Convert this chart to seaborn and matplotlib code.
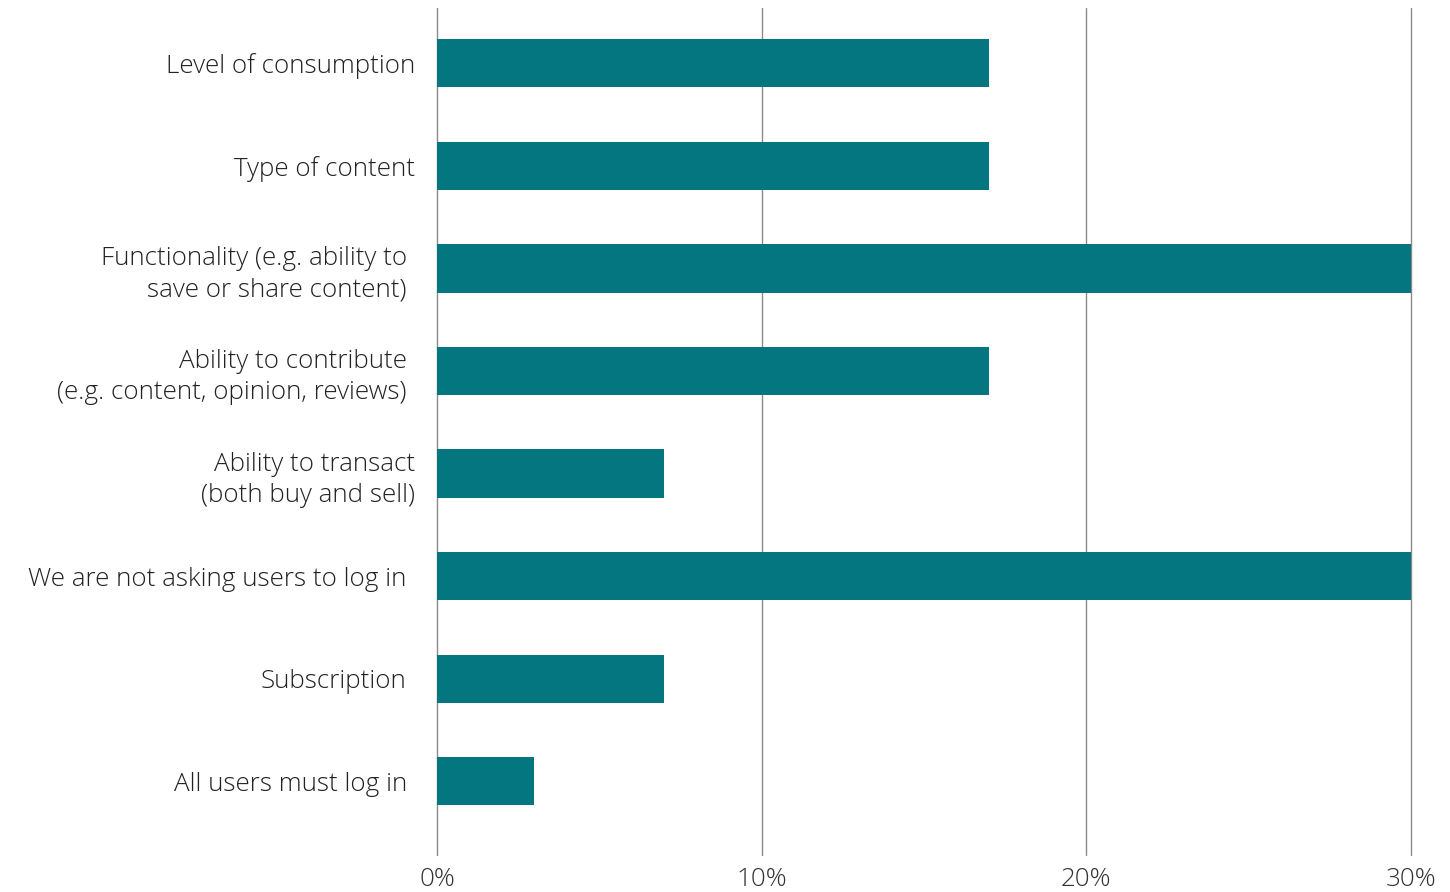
import matplotlib
matplotlib.use("Agg")
import matplotlib.pyplot as plt
import matplotlib.transforms as mtransforms
import seaborn as sns
import pandas as pd

categories = [
    "Level of consumption",
    "Type of content",
    "Functionality (e.g. ability to\nsave or share content)",
    "Ability to contribute\n(e.g. content, opinion, reviews)",
    "Ability to transact\n(both buy and sell)",
    "We are not asking users to log in",
    "Subscription",
    "All users must log in",
]
values = [17, 17, 30, 17, 7, 30, 7, 3]
xticks = [0, 10, 20, 30]
xtick_labels = ["0%", "10%", "20%", "30%"]

sns.set_theme(style="white")
plt.rcParams["font.family"] = ["Open Sans", "DejaVu Sans"]

df = pd.DataFrame({"cat": categories, "val": values})

fig = plt.figure(figsize=(14.5, 8.92), dpi=100)
ax = fig.add_axes([437 / 1450, 1 - 855 / 892, (1411 - 437) / 1450, (855 - 8) / 892])

sns.barplot(data=df, y="cat", x="val", orient="h", color="#037680",
            saturation=1, width=0.47, ax=ax, zorder=3, linewidth=0)

ax.set_xlim(0, 30)
ax.set_ylim(7.72, -0.54)
ax.set_xticks(xticks)
ax.set_xticklabels(xtick_labels, fontsize=18.7, color="#333333", fontweight="light")
ax.set_xlabel("")
ax.set_ylabel("")
ax.grid(axis="x", color="#8a8a8a", linewidth=1.0, zorder=0)
ax.grid(axis="y", visible=False)
for gl in ax.get_xgridlines():
    gl.set_clip_on(False)
for s in ax.spines.values():
    s.set_visible(False)
ax.tick_params(axis="both", length=0)
ax.tick_params(axis="x", pad=8.5)
ax.tick_params(axis="y", pad=16)

for lbl in ax.get_yticklabels():
    lbl.set_fontsize(18.7)
    lbl.set_color("#222222")
    lbl.set_fontweight("light")
    lbl.set_linespacing(1.32)

# some labels sit slightly further left in the reference
shift_idx = [2, 3, 5, 6, 7]
for i, lbl in enumerate(ax.get_yticklabels()):
    if i in shift_idx:
        lbl.set_transform(lbl.get_transform() + mtransforms.ScaledTranslation(-8 / 100, 0, fig.dpi_scale_trans))

fig.savefig("out.png", dpi=100, facecolor="white")
